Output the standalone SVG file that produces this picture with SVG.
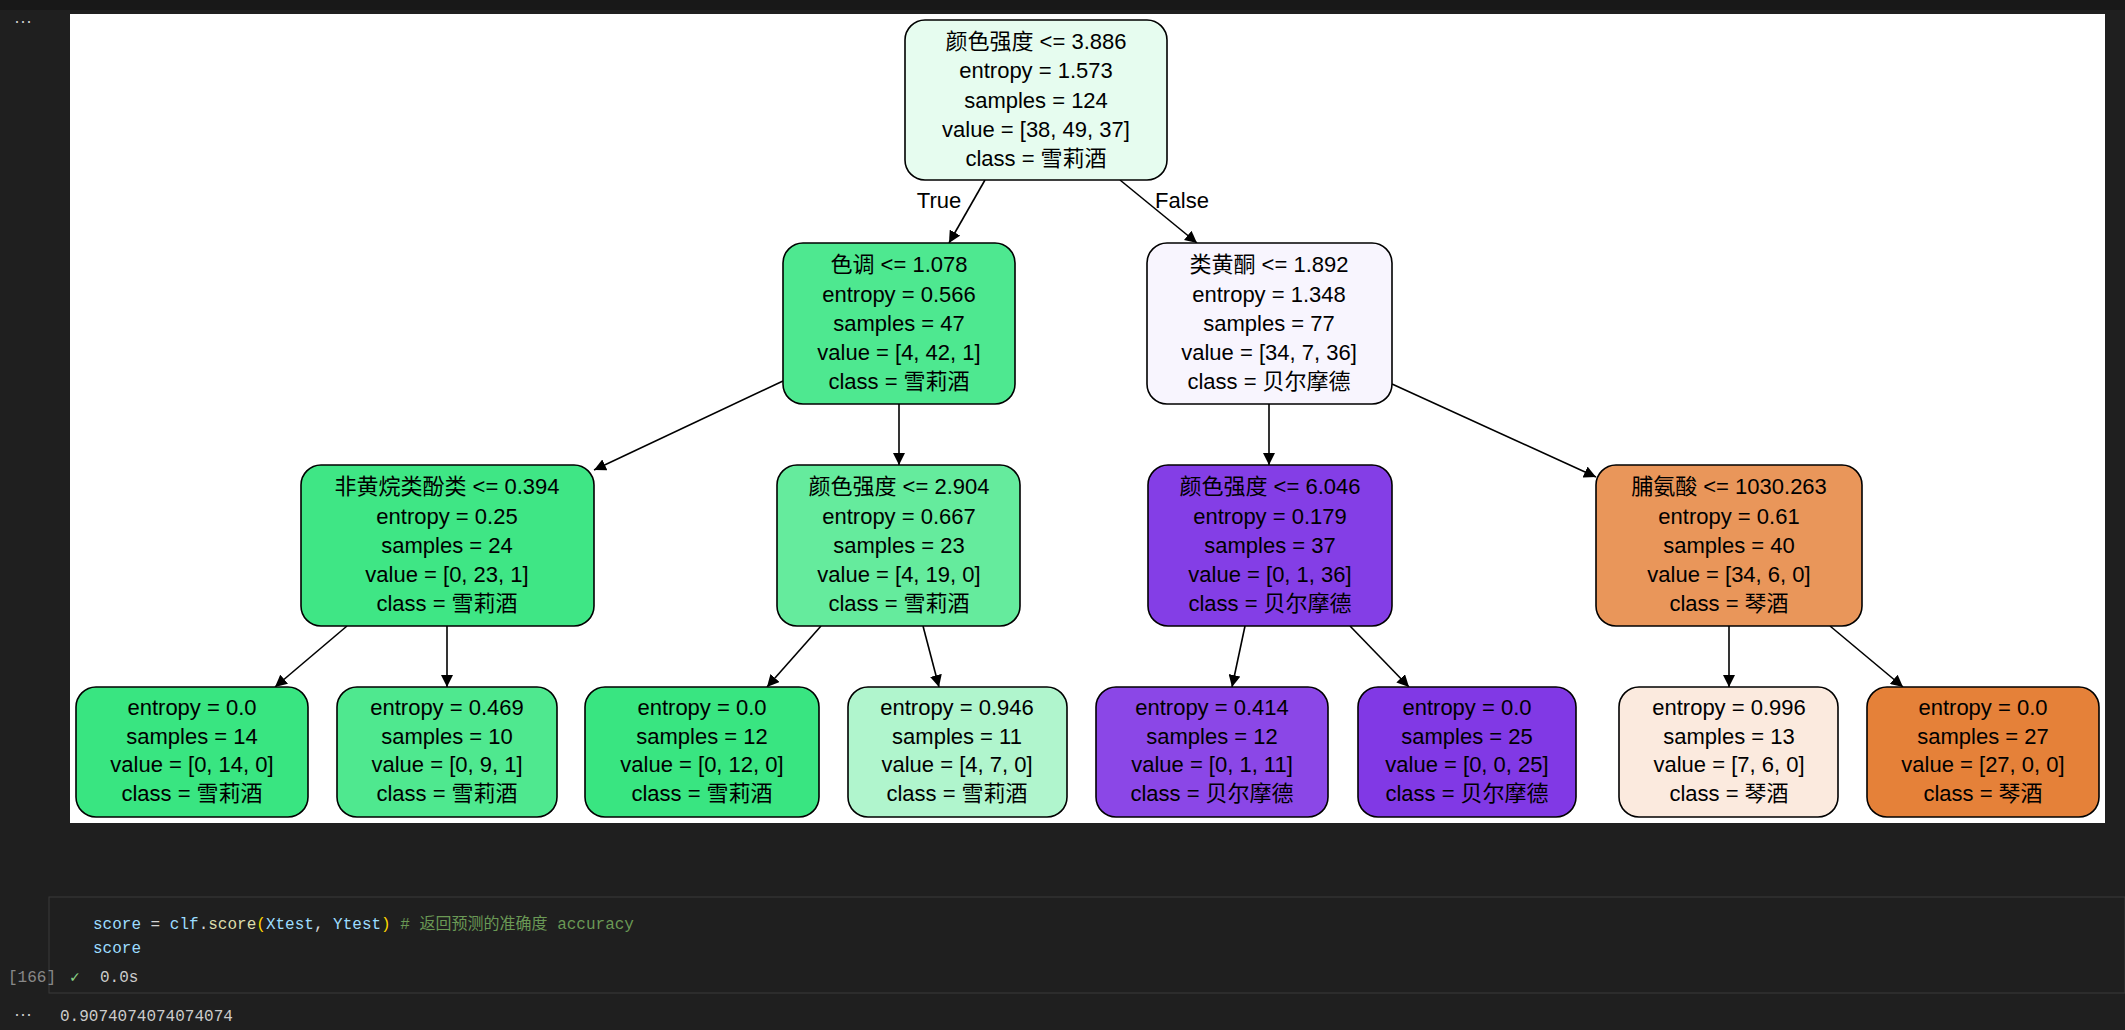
<svg xmlns="http://www.w3.org/2000/svg" width="2125" height="1030" viewBox="0 0 2125 1030">
<style>
.n{stroke:#000;stroke-width:1.6}
.t{font-family:"Liberation Sans","Noto Sans CJK SC",sans-serif;font-size:22px;fill:#000;text-anchor:middle}
.e{stroke:#000;stroke-width:1.6;fill:none;marker-end:url(#a)}
.m{font-family:"Liberation Mono","DejaVu Sans Mono","Noto Sans CJK SC",monospace;font-size:16px}
</style>
<defs><marker id="a" viewBox="0 0 10 10" refX="10" refY="5" markerWidth="12" markerHeight="12" markerUnits="userSpaceOnUse" orient="auto"><path d="M0,0L10,5L0,10z" fill="#000"/></marker></defs>
<rect width="2125" height="1030" fill="#1f1f1f"/>
<rect width="2125" height="10" fill="#181818"/>
<text x="14" y="27" fill="#ccc" font-family="Liberation Sans,sans-serif" font-size="18">···</text>
<rect x="70" y="14" width="2035" height="809" fill="#fff"/>
<g id="edges">
<path class="e" d="M985,180L949,243"/><path class="e" d="M1120,180L1197,243"/>
<path class="e" d="M783,381L594,470"/><path class="e" d="M899,404L899,465"/>
<path class="e" d="M1269,404L1269,465"/><path class="e" d="M1392,384L1596,477"/>
<path class="e" d="M347,626L275,687"/><path class="e" d="M447,626L447,687"/>
<path class="e" d="M821,626L767,687"/><path class="e" d="M923,626L939,687"/>
<path class="e" d="M1245,626L1232,687"/><path class="e" d="M1350,626L1409,687"/>
<path class="e" d="M1729,626L1729,687"/><path class="e" d="M1830,626L1903,687"/>
<text class="t" x="939" y="208">True</text><text class="t" x="1182" y="208">False</text>
</g>
<g id="n0"><rect class="n" x="905" y="20" width="262" height="160" rx="20" fill="#e6fcef"/><text class="t" x="1036" y="49">颜色强度 &lt;= 3.886</text><text class="t" x="1036" y="78">entropy = 1.573</text><text class="t" x="1036" y="108">samples = 124</text><text class="t" x="1036" y="137">value = [38, 49, 37]</text><text class="t" x="1036" y="166">class = 雪莉酒</text></g>
<g id="n1"><rect class="n" x="783" y="243" width="232" height="161" rx="20" fill="#4ee890"/><text class="t" x="899" y="272">色调 &lt;= 1.078</text><text class="t" x="899" y="302">entropy = 0.566</text><text class="t" x="899" y="331">samples = 47</text><text class="t" x="899" y="360">value = [4, 42, 1]</text><text class="t" x="899" y="389">class = 雪莉酒</text></g>
<g id="n2"><rect class="n" x="1147" y="243" width="245" height="161" rx="20" fill="#f8f5fe"/><text class="t" x="1269" y="272">类黄酮 &lt;= 1.892</text><text class="t" x="1269" y="302">entropy = 1.348</text><text class="t" x="1269" y="331">samples = 77</text><text class="t" x="1269" y="360">value = [34, 7, 36]</text><text class="t" x="1269" y="389">class = 贝尔摩德</text></g>
<g id="n3"><rect class="n" x="301" y="465" width="293" height="161" rx="20" fill="#3fe685"/><text class="t" x="447" y="494">非黄烷类酚类 &lt;= 0.394</text><text class="t" x="447" y="524">entropy = 0.25</text><text class="t" x="447" y="553">samples = 24</text><text class="t" x="447" y="582">value = [0, 23, 1]</text><text class="t" x="447" y="611">class = 雪莉酒</text></g>
<g id="n4"><rect class="n" x="777" y="465" width="243" height="161" rx="20" fill="#65eb9d"/><text class="t" x="899" y="494">颜色强度 &lt;= 2.904</text><text class="t" x="899" y="524">entropy = 0.667</text><text class="t" x="899" y="553">samples = 23</text><text class="t" x="899" y="582">value = [4, 19, 0]</text><text class="t" x="899" y="611">class = 雪莉酒</text></g>
<g id="n5"><rect class="n" x="1148" y="465" width="244" height="161" rx="20" fill="#843ee6"/><text class="t" x="1270" y="494">颜色强度 &lt;= 6.046</text><text class="t" x="1270" y="524">entropy = 0.179</text><text class="t" x="1270" y="553">samples = 37</text><text class="t" x="1270" y="582">value = [0, 1, 36]</text><text class="t" x="1270" y="611">class = 贝尔摩德</text></g>
<g id="n6"><rect class="n" x="1596" y="465" width="266" height="161" rx="20" fill="#e9965a"/><text class="t" x="1729" y="494">脯氨酸 &lt;= 1030.263</text><text class="t" x="1729" y="524">entropy = 0.61</text><text class="t" x="1729" y="553">samples = 40</text><text class="t" x="1729" y="582">value = [34, 6, 0]</text><text class="t" x="1729" y="611">class = 琴酒</text></g>
<g id="n7"><rect class="n" x="76" y="687" width="232" height="130" rx="20" fill="#39e581"/><text class="t" x="192" y="715">entropy = 0.0</text><text class="t" x="192" y="744">samples = 14</text><text class="t" x="192" y="772">value = [0, 14, 0]</text><text class="t" x="192" y="801">class = 雪莉酒</text></g>
<g id="n8"><rect class="n" x="337" y="687" width="220" height="130" rx="20" fill="#4fe88f"/><text class="t" x="447" y="715">entropy = 0.469</text><text class="t" x="447" y="744">samples = 10</text><text class="t" x="447" y="772">value = [0, 9, 1]</text><text class="t" x="447" y="801">class = 雪莉酒</text></g>
<g id="n9"><rect class="n" x="585" y="687" width="234" height="130" rx="20" fill="#39e581"/><text class="t" x="702" y="715">entropy = 0.0</text><text class="t" x="702" y="744">samples = 12</text><text class="t" x="702" y="772">value = [0, 12, 0]</text><text class="t" x="702" y="801">class = 雪莉酒</text></g>
<g id="n10"><rect class="n" x="848" y="687" width="219" height="130" rx="20" fill="#b0f5cd"/><text class="t" x="957" y="715">entropy = 0.946</text><text class="t" x="957" y="744">samples = 11</text><text class="t" x="957" y="772">value = [4, 7, 0]</text><text class="t" x="957" y="801">class = 雪莉酒</text></g>
<g id="n11"><rect class="n" x="1096" y="687" width="232" height="130" rx="20" fill="#8b47e7"/><text class="t" x="1212" y="715">entropy = 0.414</text><text class="t" x="1212" y="744">samples = 12</text><text class="t" x="1212" y="772">value = [0, 1, 11]</text><text class="t" x="1212" y="801">class = 贝尔摩德</text></g>
<g id="n12"><rect class="n" x="1358" y="687" width="218" height="130" rx="20" fill="#8139e5"/><text class="t" x="1467" y="715">entropy = 0.0</text><text class="t" x="1467" y="744">samples = 25</text><text class="t" x="1467" y="772">value = [0, 0, 25]</text><text class="t" x="1467" y="801">class = 贝尔摩德</text></g>
<g id="n13"><rect class="n" x="1619" y="687" width="219" height="130" rx="20" fill="#fbeade"/><text class="t" x="1729" y="715">entropy = 0.996</text><text class="t" x="1729" y="744">samples = 13</text><text class="t" x="1729" y="772">value = [7, 6, 0]</text><text class="t" x="1729" y="801">class = 琴酒</text></g>
<g id="n14"><rect class="n" x="1867" y="687" width="232" height="130" rx="20" fill="#e58139"/><text class="t" x="1983" y="715">entropy = 0.0</text><text class="t" x="1983" y="744">samples = 27</text><text class="t" x="1983" y="772">value = [27, 0, 0]</text><text class="t" x="1983" y="801">class = 琴酒</text></g>
<rect x="49" y="897" width="2076" height="96" fill="#1f1f1f" stroke="#3a3a3a"/>
<text class="m" x="93" y="929"><tspan fill="#9cdcfe">score</tspan><tspan fill="#d4d4d4"> = </tspan><tspan fill="#9cdcfe">clf</tspan><tspan fill="#d4d4d4">.</tspan><tspan fill="#dcdcaa">score</tspan><tspan fill="#ffd700">(</tspan><tspan fill="#9cdcfe">Xtest</tspan><tspan fill="#d4d4d4">, </tspan><tspan fill="#9cdcfe">Ytest</tspan><tspan fill="#ffd700">)</tspan><tspan fill="#6a9955"> # 返回预测的准确度 accuracy</tspan></text>
<text class="m" x="93" y="953" fill="#9cdcfe">score</text>
<text class="m" x="8" y="982" fill="#888" font-size="12">[166]</text>
<text class="m" x="70" y="982" fill="#89d185">✓</text>
<text class="m" x="100" y="982" fill="#ccc" font-size="13">0.0s</text>
<text x="14" y="1020" fill="#ccc" font-family="Liberation Sans,sans-serif" font-size="18">···</text>
<text class="m" x="60" y="1021" fill="#ccc">0.9074074074074074</text>
</svg>
